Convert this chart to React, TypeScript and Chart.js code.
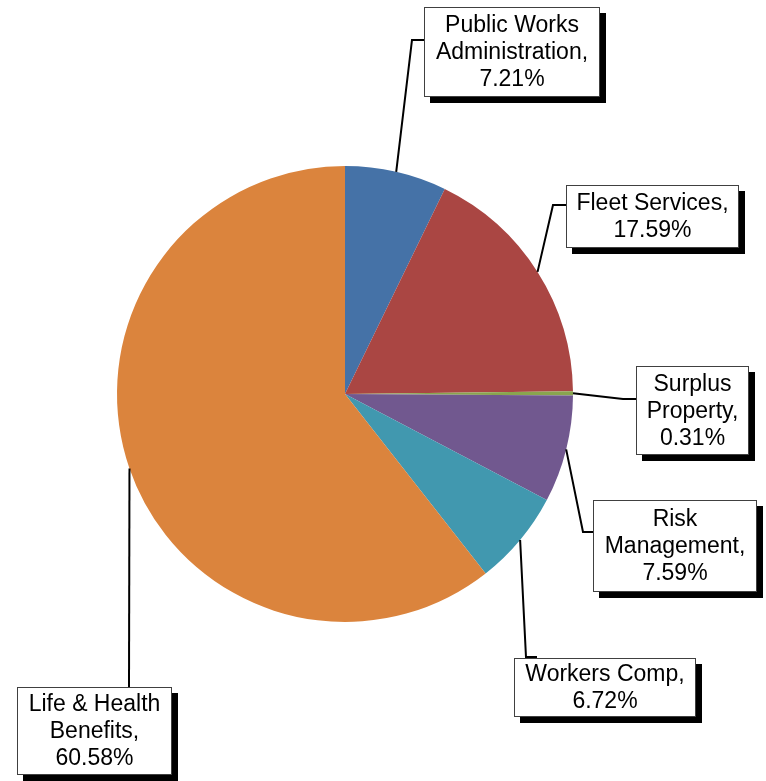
import React, { useEffect, useRef } from 'react';
import { Chart, registerables } from 'chart.js';

Chart.register(...registerables);

const categories = [
  'Public Works Administration',
  'Fleet Services',
  'Surplus Property',
  'Risk Management',
  'Workers Comp',
  'Life & Health Benefits',
];
const values = [7.21, 17.59, 0.31, 7.59, 6.72, 60.58];
const labelWraps = [
  ['Public Works', 'Administration'],
  ['Fleet Services'],
  ['Surplus', 'Property'],
  ['Risk', 'Management'],
  ['Workers Comp'],
  ['Life & Health', 'Benefits'],
];
const colors = ['#4572A7', '#AA4643', '#89A54E', '#71588F', '#4198AF', '#DB843D'];

// label box layout: [x, y, w, h], elbow point, end point
const boxes = [
  [424, 7, 176, 90],
  [566, 185, 173, 63],
  [636, 366, 113, 89],
  [593, 500, 164, 92],
  [514, 658, 182, 59],
  [17, 687, 155, 88],
];
const elbows = [
  [[412, 40], [424, 40]],
  [[553, 205], [566, 205]],
  [[623, 399], [636, 399]],
  [[583, 532], [593, 532]],
  [[526, 657], [537, 657]],
  [[129, 687], [129, 687]],
];

const W = 766;
const H = 781;

const labelPlugin = {
  id: 'calloutLabels',
  afterDatasetsDraw(chart: any) {
    const ctx = chart.ctx;
    const meta = chart.getDatasetMeta(0);
    ctx.save();
    meta.data.forEach((arc: any, i: number) => {
      const p = arc.getProps(['x', 'y', 'startAngle', 'endAngle', 'outerRadius'], true);
      const mid = (p.startAngle + p.endAngle) / 2;
      const sx = p.x + Math.cos(mid) * p.outerRadius;
      const sy = p.y + Math.sin(mid) * p.outerRadius;
      const [e1, e2] = elbows[i];
      ctx.beginPath();
      ctx.moveTo(sx, sy);
      ctx.lineTo(e1[0], e1[1]);
      ctx.lineTo(e2[0], e2[1]);
      ctx.strokeStyle = '#000';
      ctx.lineWidth = 2;
      ctx.stroke();

      const [bx, by, bw, bh] = boxes[i];
      ctx.fillStyle = '#000';
      ctx.fillRect(bx + 6, by + 6, bw, bh);
      ctx.fillStyle = '#fff';
      ctx.fillRect(bx, by, bw, bh);
      ctx.strokeStyle = '#404040';
      ctx.lineWidth = 1;
      ctx.strokeRect(bx + 0.5, by + 0.5, bw - 1, bh - 1);

      const lines = labelWraps[i].slice();
      lines[lines.length - 1] = lines[lines.length - 1] + ',';
      lines.push(values[i].toFixed(2) + '%');
      ctx.fillStyle = '#000';
      ctx.font = '23px "Liberation Sans", Arial, sans-serif';
      ctx.textAlign = 'center';
      ctx.textBaseline = 'middle';
      const lh = 27;
      const cy = by + bh / 2 + 1;
      lines.forEach((t: string, k: number) => {
        ctx.fillText(t, bx + bw / 2, cy + (k - (lines.length - 1) / 2) * lh);
      });
    });
    ctx.restore();
  },
};

export default function App() {
  const ref = useRef<HTMLCanvasElement | null>(null);
  useEffect(() => {
    if (!ref.current) return;
    const chart = new Chart(ref.current, {
      type: 'pie',
      data: {
        labels: categories,
        datasets: [
          {
            data: values,
            backgroundColor: colors,
            borderWidth: 0,
            hoverOffset: 0,
            offset: 0,
          },
        ],
      },
      options: {
        responsive: false,
        animation: false,
        layout: { padding: { left: 117, right: 193, top: 166, bottom: 159 } },
        plugins: {
          legend: { display: false },
          tooltip: { enabled: false },
        },
      },
      plugins: [labelPlugin],
    });
    return () => chart.destroy();
  }, []);
  return (
    <div style={{ position: 'fixed', left: 0, top: 0, width: W, height: H, background: '#fff' }}>
      <canvas ref={ref} width={W} height={H} style={{ display: 'block', width: W, height: H }} />
    </div>
  );
}
